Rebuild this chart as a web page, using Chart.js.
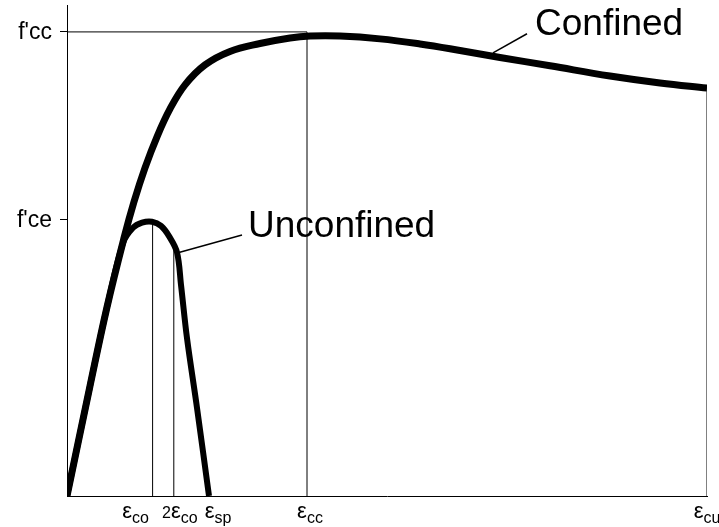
<!DOCTYPE html>
<html>
<head>
<meta charset="utf-8">
<script src="https://cdn.jsdelivr.net/npm/chart.js@4/dist/chart.umd.min.js"></script>
<style>
  html, body { margin: 0; padding: 0; background: #fff; }
  #wrap { width: 719px; height: 527px; }
</style>
</head>
<body>
<div id="wrap"><canvas id="stressStrain" width="719" height="527"></canvas></div>
<script>
// strain axis in arbitrary units (diagram is not to scale), stress as fraction of f'cc
const confinedStrain = [0, 0.575, 1.0, 1.425, 1.675, 1.95, 2.25, 2.575, 2.95, 3.45, 4.075, 4.825, 5.575, 6.075, 6.825, 7.825, 8.825, 9.825, 10.825, 12.075, 13.575, 14.825, 16];
const confinedStress = [0, 0.237, 0.407, 0.556, 0.634, 0.707, 0.774, 0.834, 0.886, 0.929, 0.958, 0.975, 0.987, 0.991, 0.991, 0.985, 0.974, 0.960, 0.945, 0.927, 0.905, 0.890, 0.879];

const unconfinedStrain = [0, 0.575, 1.0, 1.4, 1.65, 1.875, 2.125, 2.35, 2.55, 2.75, 2.85, 3.0, 3.25, 3.55];
const unconfinedStress = [0, 0.237, 0.407, 0.545, 0.578, 0.589, 0.591, 0.582, 0.560, 0.525, 0.455, 0.340, 0.190, 0];

const xTickValues = [2.14, 2.67, 3.55, 6.0, 16];
const xTickLabels = ['εco', '2εco', 'εsp', 'εcc', 'εcu'];
const yTickValues = [0.595, 1.0];
const yTickLabels = ["f'ce", "f'cc"];

function toPoints(xs, ys) {
    return xs.map((x, i) => ({ x: x, y: ys[i] }));
}

// linear lookup on a curve, used for the top of the guide lines
function curveAt(xs, ys, x) {
    for (let i = 1; i < xs.length; i++) {
        if (x <= xs[i]) {
            const t = (x - xs[i - 1]) / (xs[i] - xs[i - 1]);
            return ys[i - 1] + t * (ys[i] - ys[i - 1]);
        }
    }
    return ys[ys.length - 1];
}

const guideTops = [
    curveAt(unconfinedStrain, unconfinedStress, xTickValues[0]),
    curveAt(unconfinedStrain, unconfinedStress, xTickValues[1]),
    0,
    yTickValues[1],
    curveAt(confinedStrain, confinedStress, xTickValues[4])
];

const thin = { borderColor: '#000', borderWidth: 1, pointRadius: 0, tension: 0, fill: false };

const datasets = [
    {
        label: 'Confined',
        data: toPoints(confinedStrain, confinedStress),
        borderColor: '#000',
        borderWidth: 7,
        pointRadius: 0,
        tension: 0.4,
        borderJoinStyle: 'round'
    },
    {
        label: 'Unconfined',
        data: toPoints(unconfinedStrain, unconfinedStress),
        borderColor: '#000',
        borderWidth: 6,
        pointRadius: 0,
        tension: 0.35,
        borderJoinStyle: 'round'
    },
    // f'cc level up to eps_cc
    Object.assign({ label: 'fcc', data: [{ x: 0, y: yTickValues[1] }, { x: xTickValues[3], y: yTickValues[1] }] }, thin)
];

xTickValues.forEach((v, i) => {
    if (guideTops[i] > 0) {
        datasets.push(Object.assign({ label: 'g' + i, data: [{ x: v, y: 0 }, { x: v, y: guideTops[i] }] }, thin));
    }
});

// callouts: text position and leader line, in data units
const callouts = [
    { text: 'Confined', at: [11.7, 0.993], from: [10.65, 0.955], to: [11.5, 0.996] },
    { text: 'Unconfined', at: [4.525, 0.559], from: [2.775, 0.524], to: [4.375, 0.5625] }
];
const xLabelShift = [-17, 6, 9, 3, 0];

const labelPlugin = {
    id: 'diagramLabels',
    afterDraw(chart) {
        const ctx = chart.ctx;
        const xs = chart.scales.x;
        const ys = chart.scales.y;
        ctx.save();
        ctx.fillStyle = '#000';
        ctx.strokeStyle = '#000';
        ctx.textBaseline = 'alphabetic';

        // stress labels
        ctx.font = '23px "Liberation Sans", Arial, sans-serif';
        ctx.textAlign = 'right';
        yTickValues.forEach((v, i) => {
            ctx.fillText(yTickLabels[i], xs.left - 15, ys.getPixelForValue(v) + 7);
        });

        // strain labels: prefix, epsilon, subscript
        ctx.textAlign = 'left';
        const base = xs.top + 22;
        xTickValues.forEach((v, i) => {
            const lab = xTickLabels[i];
            const k = lab.indexOf('ε');
            const pre = lab.slice(0, k);
            const sub = lab.slice(k + 1);
            const fPre = '16px "Liberation Sans", Arial, sans-serif';
            const fEps = '22px "Liberation Sans", Arial, sans-serif';
            const fSub = '16px "Liberation Sans", Arial, sans-serif';
            ctx.font = fPre; const wPre = ctx.measureText(pre).width;
            ctx.font = fEps; const wEps = ctx.measureText('ε').width;
            ctx.font = fSub; const wSub = ctx.measureText(sub).width;
            let x = xs.getPixelForValue(v) - (wPre + wEps + wSub) / 2 + xLabelShift[i];
            ctx.font = fPre; ctx.fillText(pre, x, base); x += wPre;
            ctx.font = fEps; ctx.fillText('ε', x, base); x += wEps;
            ctx.font = fSub; ctx.fillText(sub, x, base + 5);
        });

        // curve callouts
        ctx.font = '37px "Liberation Sans", Arial, sans-serif';
        ctx.lineWidth = 1.5;
        callouts.forEach(c => {
            ctx.beginPath();
            ctx.moveTo(xs.getPixelForValue(c.from[0]), ys.getPixelForValue(c.from[1]));
            ctx.lineTo(xs.getPixelForValue(c.to[0]), ys.getPixelForValue(c.to[1]));
            ctx.stroke();
            ctx.fillText(c.text, xs.getPixelForValue(c.at[0]), ys.getPixelForValue(c.at[1]));
        });
        ctx.restore();
    }
};

new Chart(document.getElementById('stressStrain').getContext('2d'), {
    type: 'line',
    data: { datasets: datasets },
    options: {
        responsive: false,
        animation: false,
        layout: { padding: { top: 5, right: 12, left: 0, bottom: 0 } },
        plugins: {
            legend: { display: false },
            tooltip: { enabled: false }
        },
        scales: {
            x: {
                type: 'linear',
                min: 0,
                max: 16,
                grid: { display: false, drawTicks: false },
                border: { display: true, color: '#000', width: 1 },
                ticks: { display: false },
                afterFit: function (scale) { scale.height = 31; }
            },
            y: {
                type: 'linear',
                min: 0,
                max: 1.058,
                afterBuildTicks: function (scale) {
                    scale.ticks = yTickValues.map(v => ({ value: v }));
                },
                grid: { drawOnChartArea: false, drawTicks: true, tickLength: 7, color: '#000' },
                border: { display: true, color: '#000', width: 1 },
                ticks: { display: false },
                afterFit: function (scale) { scale.width = 67; }
            }
        }
    },
    plugins: [labelPlugin]
});
</script>
</body>
</html>
